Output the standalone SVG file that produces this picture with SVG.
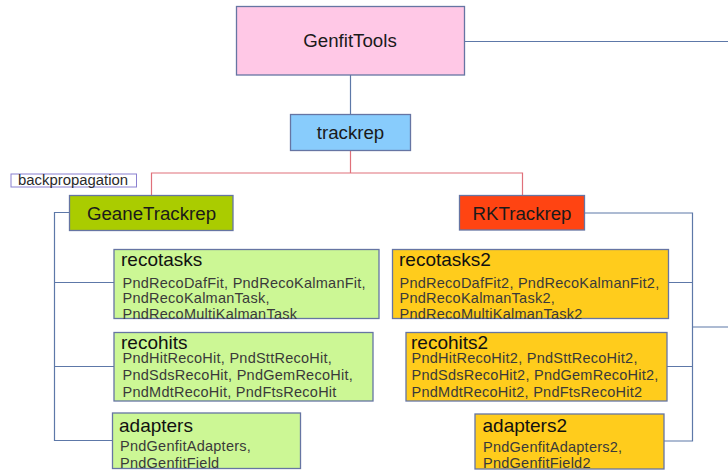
<svg xmlns="http://www.w3.org/2000/svg" width="728" height="471" viewBox="0 0 728 471">
  <style>
    text { font-family: "Liberation Sans", Arial, sans-serif; }
    .box { stroke: #6675a3; stroke-width: 1.3; }
    .head { font-size: 18.7px; fill: #1a1a1a; }
    .title { font-size: 19px; fill: #111; }
    .body { font-size: 14.5px; letter-spacing: 0.25px; fill: #3a3a3a; }
    .conn { fill: none; stroke: #5d78a8; stroke-width: 1.2; }
    .red { fill: none; stroke: #e0707a; stroke-width: 1.2; }
    .green { fill: #ccf795; }
    .amber { fill: #ffcc1c; }
  </style>

  <!-- connectors -->
  <g id="connectors">
    <path class="conn" d="M464,41.5 H728"/>
    <path class="conn" d="M350.5,75 V115"/>
    <path class="red" d="M350.5,150 V173 M151.5,196 V173 H522.5 V196"/>
    <path class="conn" d="M70,212.5 H54.5 V440.5 H112 M54.5,282.5 H114 M54.5,366.5 H114"/>
    <path class="conn" d="M584,213 H692.5 V441 H664 M668,282.5 H692.5 M667,366.5 H692.5 M692.5,327 H728"/>
  </g>

  <g id="genfittools">
    <rect class="box" x="236.5" y="6.5" width="228" height="68.5" fill="#ffc8e6"/>
    <text class="head" x="350" y="47" text-anchor="middle">GenfitTools</text>
  </g>

  <g id="trackrep">
    <rect class="box" x="290.5" y="114.5" width="120" height="36" fill="#88ccfc"/>
    <text class="head" x="350.5" y="138.5" text-anchor="middle">trackrep</text>
  </g>

  <g id="backpropagation">
    <rect x="11" y="174" width="125.5" height="13" fill="#fff" stroke="#8a80d0" stroke-width="1"/>
    <text x="18" y="185" font-size="14px" fill="#2a2a2a" textLength="110" lengthAdjust="spacingAndGlyphs">backpropagation</text>
  </g>

  <g id="geanetrackrep">
    <rect class="box" x="69.5" y="195.5" width="163.5" height="35" fill="#aacc00"/>
    <text class="head" x="151.5" y="219.5" text-anchor="middle">GeaneTrackrep</text>
  </g>

  <g id="rktrackrep">
    <rect class="box" x="459.5" y="195.5" width="125" height="34.5" fill="#ff4412"/>
    <text class="head" x="522" y="219.5" text-anchor="middle">RKTrackrep</text>
  </g>

  <!-- GeaneTrackrep packages -->
  <g id="recotasks">
    <rect class="box green" x="114" y="249.5" width="265" height="69"/>
    <text class="title" x="121" y="265.5">recotasks</text>
    <text class="body" x="122.5" y="287.5">PndRecoDafFit, PndRecoKalmanFit,</text>
    <text class="body" x="122.5" y="303">PndRecoKalmanTask,</text>
    <text class="body" x="122.5" y="318.5">PndRecoMultiKalmanTask</text>
  </g>

  <g id="recohits">
    <rect class="box green" x="114" y="332.5" width="259" height="68.5"/>
    <text class="title" x="121" y="348.5">recohits</text>
    <text class="body" x="122.5" y="362.5">PndHitRecoHit, PndSttRecoHit,</text>
    <text class="body" x="122.5" y="379.5">PndSdsRecoHit, PndGemRecoHit,</text>
    <text class="body" x="122.5" y="397">PndMdtRecoHit, PndFtsRecoHit</text>
  </g>

  <g id="adapters">
    <rect class="box green" x="112.5" y="413" width="188" height="55.5"/>
    <text class="title" x="119" y="431.5">adapters</text>
    <text class="body" x="120" y="451">PndGenfitAdapters,</text>
    <text class="body" x="120" y="467.5">PndGenfitField</text>
  </g>

  <!-- RKTrackrep packages -->
  <g id="recotasks2">
    <rect class="box amber" x="392.5" y="249.5" width="276" height="69"/>
    <text class="title" x="399" y="265.5">recotasks2</text>
    <text class="body" x="399.5" y="287.5">PndRecoDafFit2, PndRecoKalmanFit2,</text>
    <text class="body" x="399.5" y="303">PndRecoKalmanTask2,</text>
    <text class="body" x="399.5" y="318.5">PndRecoMultiKalmanTask2</text>
  </g>

  <g id="recohits2">
    <rect class="box amber" x="406" y="332.5" width="261" height="68.5"/>
    <text class="title" x="411" y="348.5">recohits2</text>
    <text class="body" x="411.5" y="362.5">PndHitRecoHit2, PndSttRecoHit2,</text>
    <text class="body" x="411.5" y="379.5">PndSdsRecoHit2, PndGemRecoHit2,</text>
    <text class="body" x="411.5" y="397">PndMdtRecoHit2, PndFtsRecoHit2</text>
  </g>

  <g id="adapters2">
    <rect class="box amber" x="475" y="414" width="189" height="55"/>
    <text class="title" x="482.5" y="432">adapters2</text>
    <text class="body" x="483" y="451.5">PndGenfitAdapters2,</text>
    <text class="body" x="483" y="468">PndGenfitField2</text>
  </g>
</svg>
